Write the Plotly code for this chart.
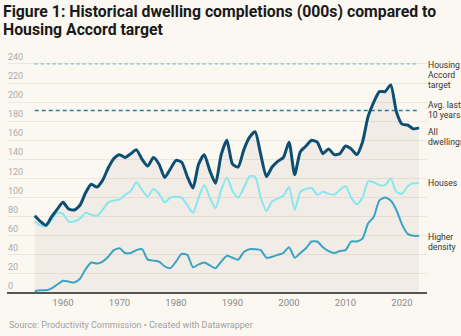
import plotly.graph_objects as go

years = list(range(1955, 2024))

all_dwellings = [81, 75, 71, 80, 88, 95, 88, 87, 92, 105,
                 114, 111, 118, 131, 141, 145, 142, 146, 150, 140,
                 133, 142, 135, 121, 130, 139, 137, 122, 110, 135,
                 145, 128, 115, 145, 160, 135, 132, 150, 163, 169,
                 145, 122, 132, 138, 142, 158, 124, 148, 154, 160,
                 158, 146, 151, 145, 146, 154, 151, 145, 158, 185,
                 200, 211, 211, 218, 190, 177, 176, 172, 173]

houses = [75, 71, 70, 77, 84, 83, 75, 75, 78, 84,
          82, 81, 87, 95, 97, 98, 103, 107, 116, 108,
          101, 109, 104, 95, 100, 101, 100, 92, 84, 100,
          113, 100, 89, 108, 121, 107, 100, 110, 122, 122,
          100, 86, 96, 99, 102, 111, 87, 106, 109, 110,
          103, 106, 104, 103, 108, 112, 100, 93, 100, 117,
          116, 113, 113, 120, 106, 104, 112, 115, 115]

higher_density = [2, 3, 3, 5, 9, 13, 12, 11, 15, 25,
                  32, 31, 33, 38, 45, 47, 42, 42, 45, 46,
                  35, 34, 33, 28, 26, 33, 41, 40, 27, 30,
                  32, 29, 26, 33, 39, 37, 35, 43, 46, 46,
                  45, 37, 38, 40, 42, 48, 37, 42, 47, 54,
                  54, 48, 44, 42, 44, 45, 54, 54, 57, 73,
                  80, 97, 100, 97, 87, 72, 62, 60, 60]

accord_target = 240
avg_last_10 = sum(all_dwellings[-10:]) / 10

y_ticks = list(range(0, 241, 20))
x_ticks = list(range(1960, 2021, 10))

title_lines = ["Figure 1: Historical dwelling completions (000s) compared to",
               "Housing Accord target"]
source_text = "Source: Productivity Commission • Created with Datawrapper"

BG = "#fbf8f1"
C_ALL = "#0d4f72"
C_HOUSES = "#88e6ee"
C_HD = "#3aa3c4"
C_TARGET = "#5ec6dc"
C_AVG = "#2b7c9b"

W, H = 461, 336
M_L, M_R, M_T, M_B = 7, 34, 62.4, 40.8
PLOT_H = H - M_T - M_B


def paper_y(px):
    return 1 + (M_T - px) / PLOT_H


fig = go.Figure()

fig.add_trace(go.Scatter(x=years, y=all_dwellings, mode="lines", fill="tozeroy",
                         fillcolor="rgba(120,110,90,0.075)", line=dict(width=0, shape="spline", smoothing=0.6),
                         hoverinfo="skip", showlegend=False))

fig.add_trace(go.Scatter(x=[years[0], years[-1]], y=[accord_target, accord_target], mode="lines",
                         line=dict(color=C_TARGET, width=1.3, dash="dot"), showlegend=False))
fig.add_trace(go.Scatter(x=[years[0], years[-1]], y=[avg_last_10, avg_last_10], mode="lines",
                         line=dict(color=C_AVG, width=1.5, dash="4px,3px"), showlegend=False))

fig.add_trace(go.Scatter(x=years, y=higher_density, mode="lines",
                         line=dict(color=C_HD, width=2, shape="spline", smoothing=0.6), showlegend=False))
fig.add_trace(go.Scatter(x=years, y=houses, mode="lines",
                         line=dict(color=C_HOUSES, width=2, shape="spline", smoothing=0.6), showlegend=False))
fig.add_trace(go.Scatter(x=years, y=all_dwellings, mode="lines",
                         line=dict(color=C_ALL, width=3, shape="spline", smoothing=0.6), showlegend=False))

# y tick labels sitting above gridlines
for v in y_ticks:
    fig.add_annotation(x=0, xref="paper", y=v, yref="y", text=str(v), showarrow=False,
                       xanchor="left", yanchor="middle", yshift=7, xshift=-1,
                       font=dict(family="Roboto", size=9, color="#ababab"))

# right-hand series labels, one annotation per line
lab_font = dict(family="Roboto", size=8.6, color="#333333")
lab_x = years[-1] + 1.25
labels = [
    (["Housing", "Accord", "target"], accord_target, -1),
    (["Avg. last", "10 years"], avg_last_10, 5),
    (["All", "dwellings"], all_dwellings[-1], -4),
    (["Houses"], houses[-1], 0),
    (["Higher", "density"], higher_density[-1], -1),
]
for lines, yv, first_off in labels:
    for i, ln in enumerate(lines):
        fig.add_annotation(x=lab_x, y=yv, text=ln, showarrow=False, xanchor="left", yanchor="middle",
                           align="left", yshift=first_off - 10 * i, font=lab_font)

# title lines
title_font = dict(family="Roboto", size=15.8, color="#1a1a1a", weight="bold")
fig.add_annotation(x=0, xref="paper", xshift=-6, y=paper_y(12), yref="paper", text=title_lines[0],
                   showarrow=False, xanchor="left", yanchor="middle", font=title_font)
fig.add_annotation(x=0, xref="paper", xshift=-6, y=paper_y(30), yref="paper", text=title_lines[1],
                   showarrow=False, xanchor="left", yanchor="middle", font=title_font)

fig.add_annotation(x=0, xref="paper", y=paper_y(325), yref="paper", text=source_text, showarrow=False,
                   xanchor="left", yanchor="middle", font=dict(family="Roboto", size=9, color="#a0a0a0"))

fig.update_layout(
    width=W, height=H,
    margin=dict(l=M_L, r=M_R, t=M_T, b=M_B),
    paper_bgcolor=BG, plot_bgcolor=BG,
    showlegend=False,
)
fig.update_xaxes(range=[1950.09, 2024.42], tickvals=x_ticks, showgrid=False, zeroline=False,
                 showline=False, ticks="", tickfont=dict(family="Roboto", size=9.5, color="#8a8a8a"),
                 fixedrange=True)
fig.update_yaxes(range=[-2, 242], tickvals=y_ticks, showgrid=True, gridcolor="#ebe7df", gridwidth=1,
                 zeroline=True, zerolinecolor="#555555", zerolinewidth=1.5,
                 showticklabels=False, fixedrange=True)

fig.write_html("out.html")
